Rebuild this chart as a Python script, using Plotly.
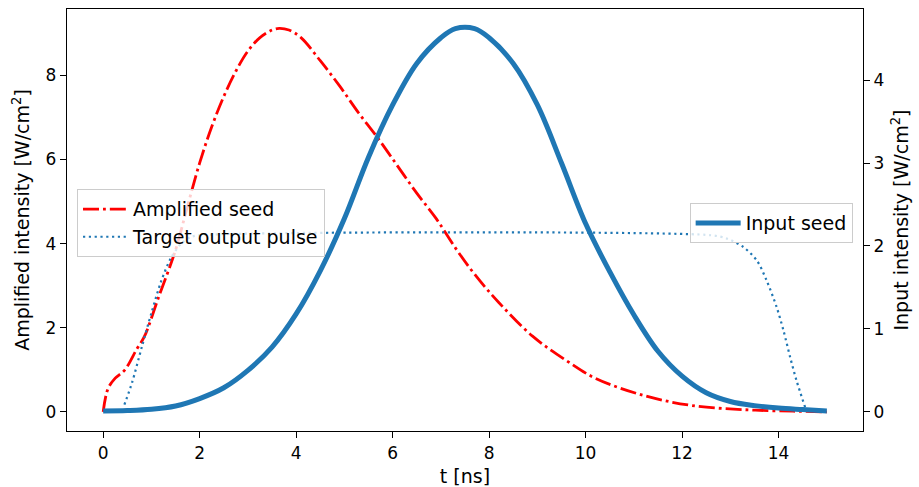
import plotly.graph_objects as go

# ---- data ----
t_seed = [0.0, 0.5, 1.0, 1.5, 2.0, 2.5, 3.0, 3.5, 4.0, 4.5, 5.0, 5.5, 6.0, 6.5, 7.0,
          7.3, 7.7, 8.0, 8.5, 9.0, 9.5, 10.0, 10.5, 11.0, 11.5, 12.0, 12.5, 13.0,
          13.5, 14.0, 14.5, 15.0]
input_seed = [0.01, 0.015, 0.03, 0.07, 0.16, 0.29, 0.50, 0.78, 1.18, 1.70, 2.33, 3.07,
              3.70, 4.20, 4.51, 4.62, 4.62, 4.51, 4.20, 3.70, 3.00, 2.27, 1.69, 1.17,
              0.73, 0.43, 0.23, 0.125, 0.075, 0.045, 0.027, 0.01]

t_amp = [0.0, 0.1, 0.25, 0.45, 0.7, 0.85, 1.15, 1.5, 1.75, 2.0, 2.25, 2.5, 2.75, 3.0,
         3.25, 3.5, 3.65, 3.85, 4.1, 4.5, 4.9, 5.3, 5.7, 6.1, 6.5, 6.9, 7.3, 7.7, 8.2,
         8.9, 9.6, 10.2, 11.2, 12.2, 13.3, 14.3, 15.0]
amplified = [0.0, 0.55, 0.80, 1.0, 1.5, 1.78, 2.73, 3.85, 4.9, 5.92, 6.78, 7.5, 8.1,
             8.58, 8.9, 9.08, 9.12, 9.08, 8.9, 8.35, 7.75, 7.1, 6.5, 5.85, 5.2, 4.6, 3.9,
             3.27, 2.6, 1.8, 1.22, 0.8, 0.39, 0.15, 0.05, 0.015, 0.0]

t_target = [0.44, 0.6, 0.8, 1.0, 1.2, 1.4, 1.6, 1.8, 2.0, 12.6, 12.93, 13.27, 13.55,
            13.75, 13.96, 14.10, 14.24, 14.37, 14.55]
target = [0.17, 0.70, 1.54, 2.35, 3.10, 3.65, 3.98, 4.15, 4.20, 4.20, 4.12, 3.92, 3.60,
          3.13, 2.49, 1.94, 1.30, 0.75, 0.11]

x_ticks = [0, 2, 4, 6, 8, 10, 12, 14]
y1_ticks = [0, 2, 4, 6, 8]
y2_ticks = [0, 1, 2, 3, 4]

FONT = "DejaVu Sans"
RED = "#ff0000"
BLUE = "#1f77b4"

fig = go.Figure()
fig.add_trace(go.Scatter(
    x=t_amp, y=amplified, name="Amplified seed", mode="lines",
    line=dict(color=RED, width=2.8, dash="16px,4px,2.8px,4px", shape="spline", smoothing=1.0),
    yaxis="y", legend="legend"))
fig.add_trace(go.Scatter(
    x=t_target, y=target, name="Target output pulse", mode="lines",
    line=dict(color=BLUE, width=2.2, dash="2.2px,3.6px", shape="spline", smoothing=0.8),
    yaxis="y", legend="legend"))
fig.add_trace(go.Scatter(
    x=t_seed, y=input_seed, name="Input seed", mode="lines",
    line=dict(color=BLUE, width=5, shape="spline", smoothing=1.0),
    yaxis="y2", legend="legend2"))

axis_common = dict(
    showgrid=False, zeroline=False, showline=True, linecolor="black", linewidth=1.3,
    ticks="outside", ticklen=6, tickwidth=1.2, tickcolor="black",
    tickfont=dict(family=FONT, size=17, color="black"), automargin=False,
)

fig.update_layout(
    width=919, height=487,
    margin=dict(l=67, r=56, t=9, b=56),
    paper_bgcolor="white", plot_bgcolor="white",
    font=dict(family=FONT, size=19, color="black"),
    xaxis=dict(range=[-0.75, 15.75], tickvals=x_ticks, mirror=True,
               title=dict(text="t [ns]", font=dict(family=FONT, size=19), standoff=10),
               **axis_common),
    yaxis=dict(range=[-0.456, 9.58], tickvals=y1_ticks,
               title=dict(text="Amplified intensity [W/cm<sup>2</sup>]",
                          font=dict(family=FONT, size=19), standoff=10),
               **axis_common),
    yaxis2=dict(range=[-0.231, 4.857], tickvals=y2_ticks, overlaying="y", side="right",
                title=dict(text="Input intensity [W/cm<sup>2</sup>]",
                           font=dict(family=FONT, size=19), standoff=11),
                **axis_common),
    legend=dict(x=0.0126, y=0.573, xanchor="left", yanchor="top", itemwidth=45,
                bgcolor="rgba(255,255,255,0.8)", bordercolor="#cccccc", borderwidth=1,
                font=dict(family=FONT, size=19, color="black")),
    legend2=dict(x=0.987, y=0.540, xanchor="right", yanchor="top", itemwidth=45,
                 bgcolor="rgba(255,255,255,0.8)", bordercolor="#cccccc", borderwidth=1,
                 font=dict(family=FONT, size=19, color="black")),
)

fig.write_html("out.html", config={"displayModeBar": False},
               post_script="document.body.style.margin='0';")
